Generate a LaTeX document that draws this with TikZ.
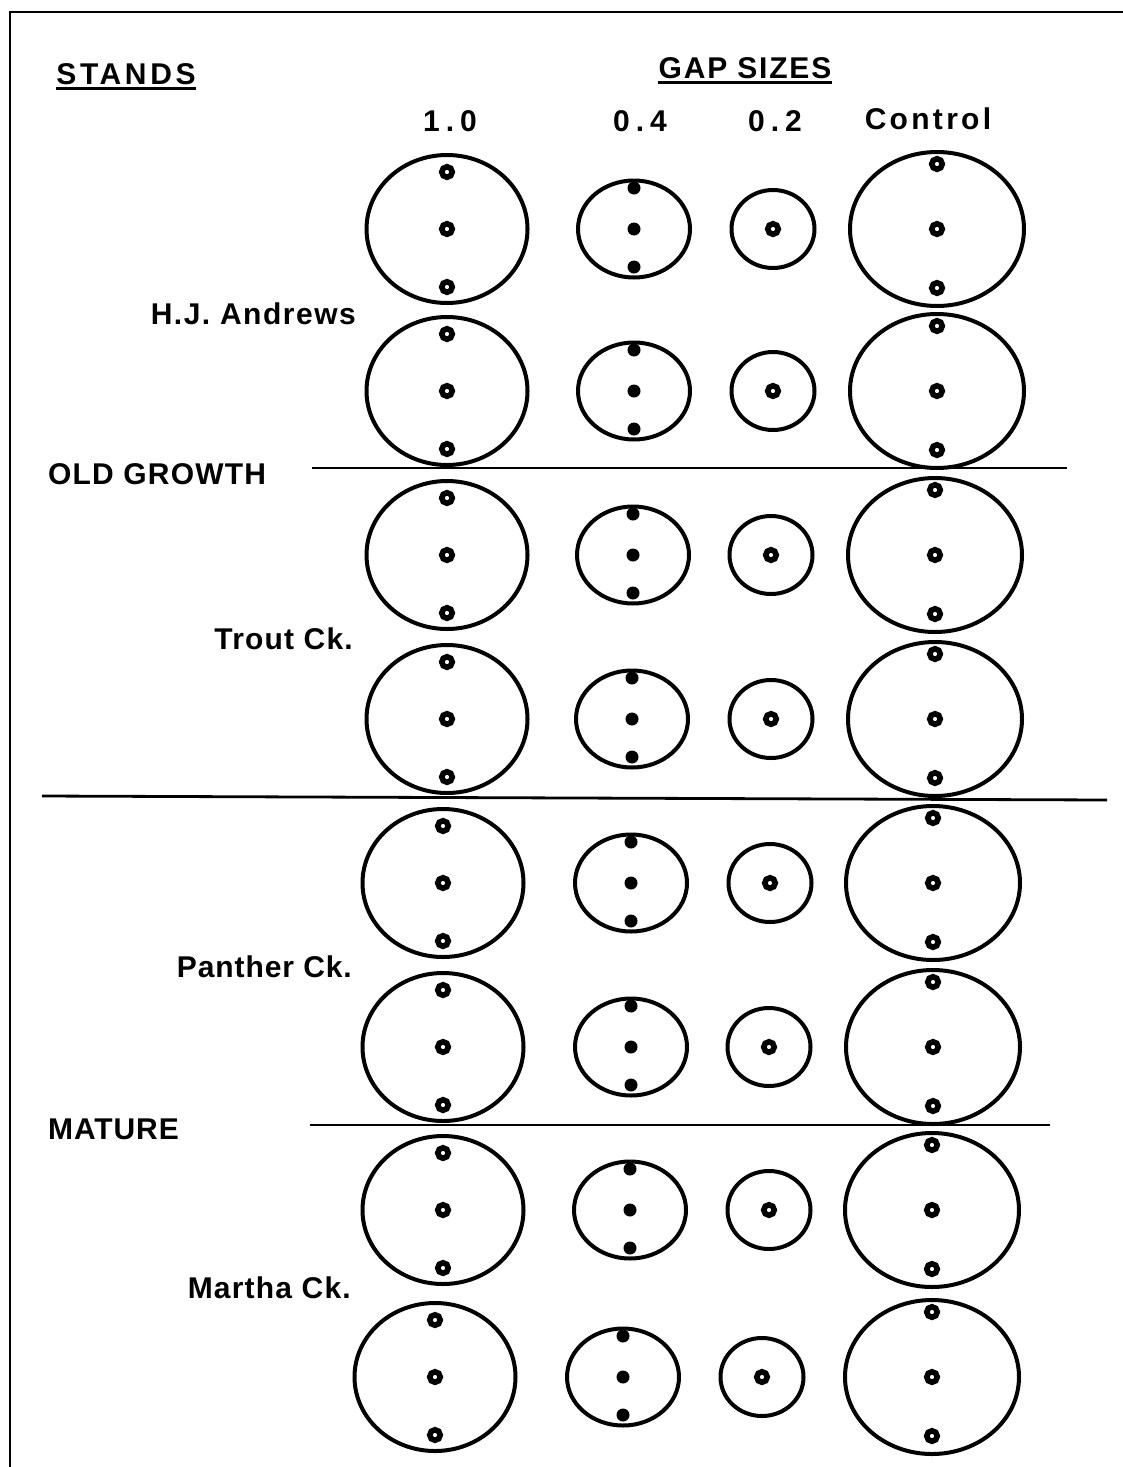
\documentclass[tikz,border=0pt]{standalone}
\usepackage{fontspec}
\setmainfont{Liberation Sans}
\usetikzlibrary{shapes.geometric,positioning}

\begin{document}
\begin{tikzpicture}[x=1pt,y=-1pt,
  lbl/.style={font=\fontsize{30}{32}\selectfont\bfseries,inner sep=0pt},
  wide/.style={font=\fontsize{30}{32}\selectfont\bfseries\addfontfeature{LetterSpace=#1}},
  gapone/.style={draw,ellipse,line width=4pt,inner sep=0pt,minimum width=161pt,minimum height=148pt},
  gapfour/.style={draw,ellipse,line width=4pt,inner sep=0pt,minimum width=112pt,minimum height=97pt},
  gaptwo/.style={draw,ellipse,line width=4pt,inner sep=0pt,minimum width=83pt,minimum height=78pt},
  gapctl/.style={draw,ellipse,line width=4pt,inner sep=0pt,minimum width=174pt,minimum height=154pt},
  ring/.style={circle,draw,line width=5.6pt,minimum size=10.5pt,inner sep=0pt},
  spot/.style={circle,fill,minimum size=13pt,inner sep=0pt}]
  \useasboundingbox (0,0) rectangle (1123,1467);
  % frame
  \draw[line width=2pt] (10,1467) -- (10,12) -- (1123,12);
  % headings
  \node[lbl,wide=12,anchor=base] (stands) at (126,84) {STANDS};
  \node[lbl,wide=6,anchor=base] (gaps) at (745,78) {GAP SIZES};
  \draw[line width=2.8pt] ([yshift=-4pt]stands.south west) -- ([yshift=-4pt]stands.south east);
  \draw[line width=2.8pt] ([yshift=-4pt]gaps.south west) -- ([yshift=-4pt]gaps.south east);
  \node[lbl,wide=20,anchor=base] (g10) at (450,131) {1.0};
  \node[lbl,wide=20,anchor=base] (g04) at (640,131) {0.4};
  \node[lbl,wide=20,anchor=base] (g02) at (775,131) {0.2};
  \node[lbl,wide=11,anchor=base] (gctl) at (928,129) {Control};
  % stand names
  \node[lbl,wide=5,anchor=base east] (hja) at (356,324) {H.J. Andrews};
  \node[lbl,wide=4,anchor=base west] (old) at (48,484) {OLD GROWTH};
  \node[lbl,wide=4,anchor=base east] (trout) at (353,649) {Trout Ck.};
  \node[lbl,wide=3,anchor=base east] (panther) at (352,977) {Panther Ck.};
  \node[lbl,wide=3,anchor=base west] (mature) at (48,1139) {MATURE};
  \node[lbl,wide=4,anchor=base east] (martha) at (351,1298) {Martha Ck.};
  % separators
  \draw[line width=1.4pt] (312,468) -- (1067,468);
  \draw[line width=2.8pt] (42,796) -- (1107,800);
  \draw[line width=1.4pt] (310,1125) -- (1050,1125);
  % gaps, row by row
  \foreach \r/\y/\xa/\xb/\xc/\xd in {1/229/447/634/773/937,2/391/447/634/773/937,
      3/555/447/633/771/935,4/719/447/632/771/935,5/883/443/631/770/933,
      6/1047/443/631/769/933,7/1210/443/630/769/932,8/1377/435/623/762/932}{
    \node[gapone] (a\r) at (\xa,\y) {};
    \node[gapfour] (b\r) at (\xb,\y) {};
    \node[gaptwo] (c\r) at (\xc,\y) {};
    \node[gapctl] (d\r) at (\xd,\y) {};
    \node[ring] (a\r t) at (\xa,{\y-57}) {};
    \node[ring] (a\r m) at (\xa,\y) {};
    \node[ring] (a\r b) at (\xa,{\y+58}) {};
    \node[spot] (b\r t) at (\xb,{\y-41}) {};
    \node[spot] (b\r m) at (\xb,\y) {};
    \node[spot] (b\r b) at (\xb,{\y+38}) {};
    \node[ring] (c\r m) at (\xc,\y) {};
    \node[ring] (d\r t) at (\xd,{\y-65}) {};
    \node[ring] (d\r m) at (\xd,\y) {};
    \node[ring] (d\r b) at (\xd,{\y+59}) {};
  }
\end{tikzpicture}
\end{document}
